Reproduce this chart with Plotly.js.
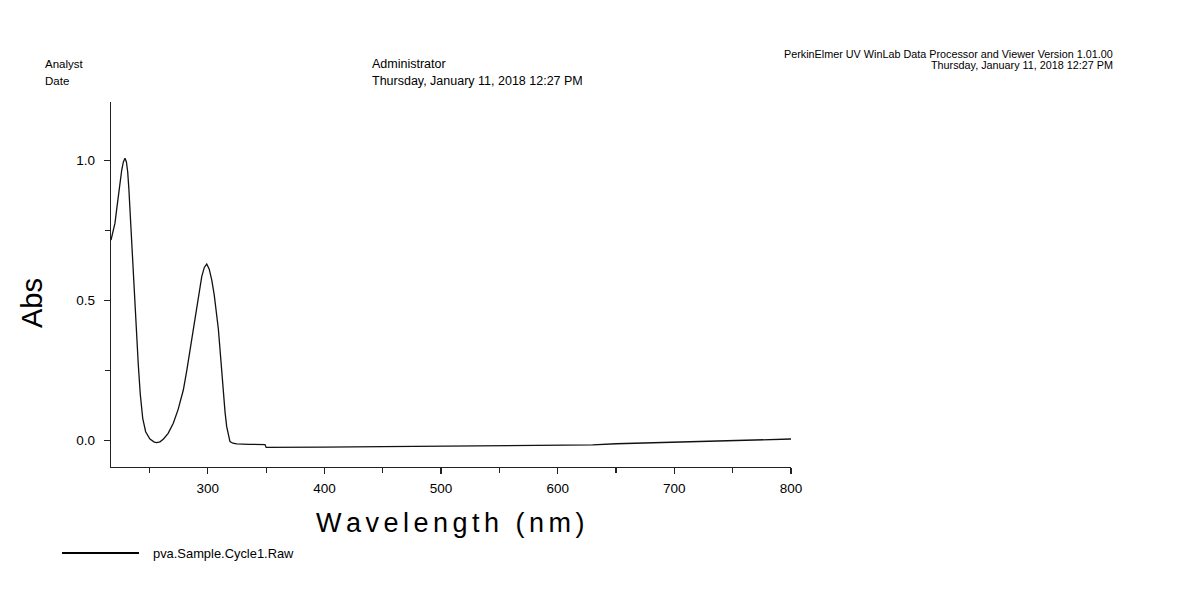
<!DOCTYPE html>
<html>
<head>
<meta charset="utf-8">
<script src="https://cdn.plot.ly/plotly-3.0.1.min.js"></script>
<style>html,body{margin:0;padding:0;background:#fff;}#chart{width:1204px;height:606px;}</style>
</head>
<body>
<div id="chart"></div>
<script>
// Wavelength (nm)
const wavelength = [217, 218.5, 220.4, 222, 223.3, 224.8, 226.2, 227.6, 229.0, 230.2, 231.3, 232.3, 233.3, 234.7, 236.7, 238.4, 240.4, 242.1, 244.2, 246.7, 248.5, 250.4, 254.1, 256.2, 259, 262, 266, 270.4, 274.5, 279.0, 282, 284.7, 287, 289.0, 292, 294.8, 297, 299.1, 301.2, 303.4, 305.5, 307.6, 309, 310.5, 312, 313.3, 314.8, 316.2, 317.6, 319.0, 321.5, 324.8, 335, 349, 350, 360, 400, 450, 500, 550, 600, 630, 650, 700, 750, 800];
// Absorbance
const absorbance = [0.716, 0.74, 0.776, 0.83, 0.877, 0.925, 0.966, 0.995, 1.008, 0.995, 0.96, 0.90, 0.817, 0.698, 0.579, 0.436, 0.27, 0.165, 0.079, 0.031, 0.016, 0.005, -0.006, -0.008, -0.005, 0.005, 0.025, 0.061, 0.11, 0.18, 0.25, 0.323, 0.385, 0.442, 0.52, 0.585, 0.618, 0.630, 0.612, 0.573, 0.52, 0.454, 0.40, 0.323, 0.24, 0.169, 0.10, 0.049, 0.018, -0.004, -0.010, -0.0125, -0.014, -0.015, -0.025, -0.025, -0.024, -0.022, -0.021, -0.019, -0.017, -0.016, -0.012, -0.006, 0.0, 0.005];
const seriesName = 'pva.Sample.Cycle1.Raw';
const xTickVals = [300, 400, 500, 600, 700, 800];
const yTickVals = [0, 0.5, 1.0];

const FONT = 'Liberation Sans, Arial, sans-serif';
const sp = '\u2006';
const xTitle = 'Wavelength (nm)'.split('').join(sp);

const trace = {
  x: wavelength, y: absorbance, type: 'scatter', mode: 'lines',
  name: seriesName, line: {color: '#111', width: 1.3}, hoverinfo: 'skip'
};

const layout = {
  width: 1204, height: 606,
  margin: {l: 111, r: 413, t: 102, b: 139},
  paper_bgcolor: '#fff', plot_bgcolor: '#fff',
  showlegend: false,
  font: {family: FONT, color: '#000'},
  xaxis: {
    range: [217, 800], tickvals: xTickVals, ticks: 'outside', ticklen: 6, tickwidth: 1.2, tickcolor: '#222',
    showline: true, linecolor: '#222', linewidth: 1.3, showgrid: false, zeroline: false,
    tickfont: {size: 13.5, family: FONT}, ticklabelstandoff: 2,
    minor: {dtick: 50, tick0: 0, ticks: 'outside', ticklen: 5, tickcolor: '#222', showgrid: false}
  },
  yaxis: {
    range: [-0.095, 1.209], tickvals: yTickVals, tickformat: '.1f', ticks: 'outside', ticklen: 6, tickwidth: 1.2, tickcolor: '#222',
    showline: true, linecolor: '#222', linewidth: 1.3, showgrid: false, zeroline: false,
    tickfont: {size: 13.5, family: FONT}, ticklabelstandoff: 6,
    minor: {dtick: 0.25, tick0: 0, ticks: 'outside', ticklen: 5, tickcolor: '#222', showgrid: false}
  },
  shapes: [
    {type: 'line', xref: 'paper', yref: 'paper', x0: -49/680, x1: 28/680, y0: -86/365, y1: -86/365,
     line: {color: '#000', width: 2}}
  ],
  annotations: [
    {text: 'Analyst', xref: 'paper', yref: 'paper', x: -68/680, y: (467-64)/365, xanchor: 'left', yanchor: 'middle', showarrow: false, font: {size: 11.5}},
    {text: 'Date', xref: 'paper', yref: 'paper', x: -68/680, y: (467-81)/365, xanchor: 'left', yanchor: 'middle', showarrow: false, font: {size: 11.5}},
    {text: 'Administrator', xref: 'paper', yref: 'paper', x: 259/680, y: (467-64)/365, xanchor: 'left', yanchor: 'middle', showarrow: false, font: {size: 12.5}},
    {text: 'Thursday, January 11, 2018 12:27 PM', xref: 'paper', yref: 'paper', x: 259/680, y: (467-81)/365, xanchor: 'left', yanchor: 'middle', showarrow: false, font: {size: 12.5}},
    {text: 'PerkinElmer UV WinLab Data Processor and Viewer Version 1.01.00', xref: 'paper', yref: 'paper', x: 1004/680, y: (467-54)/365, xanchor: 'right', yanchor: 'middle', showarrow: false, font: {size: 10.8}},
    {text: 'Thursday, January 11, 2018 12:27 PM', xref: 'paper', yref: 'paper', x: 1004/680, y: (467-65)/365, xanchor: 'right', yanchor: 'middle', showarrow: false, font: {size: 10.8}},
    {text: xTitle, xref: 'paper', yref: 'paper', x: 339/680, y: -56/365, xanchor: 'center', yanchor: 'middle', showarrow: false, font: {size: 27}},
    {text: 'Abs', xref: 'paper', yref: 'paper', x: -79/680, y: (467-303)/365, xanchor: 'center', yanchor: 'middle', showarrow: false, textangle: -90, font: {size: 29}},
    {text: seriesName, xref: 'paper', yref: 'paper', x: 40/680, y: -86/365, xanchor: 'left', yanchor: 'middle', showarrow: false, font: {size: 12.9}}
  ]
};

Plotly.newPlot('chart', [trace], layout, {displayModeBar: false, staticPlot: true});
</script>
</body>
</html>
